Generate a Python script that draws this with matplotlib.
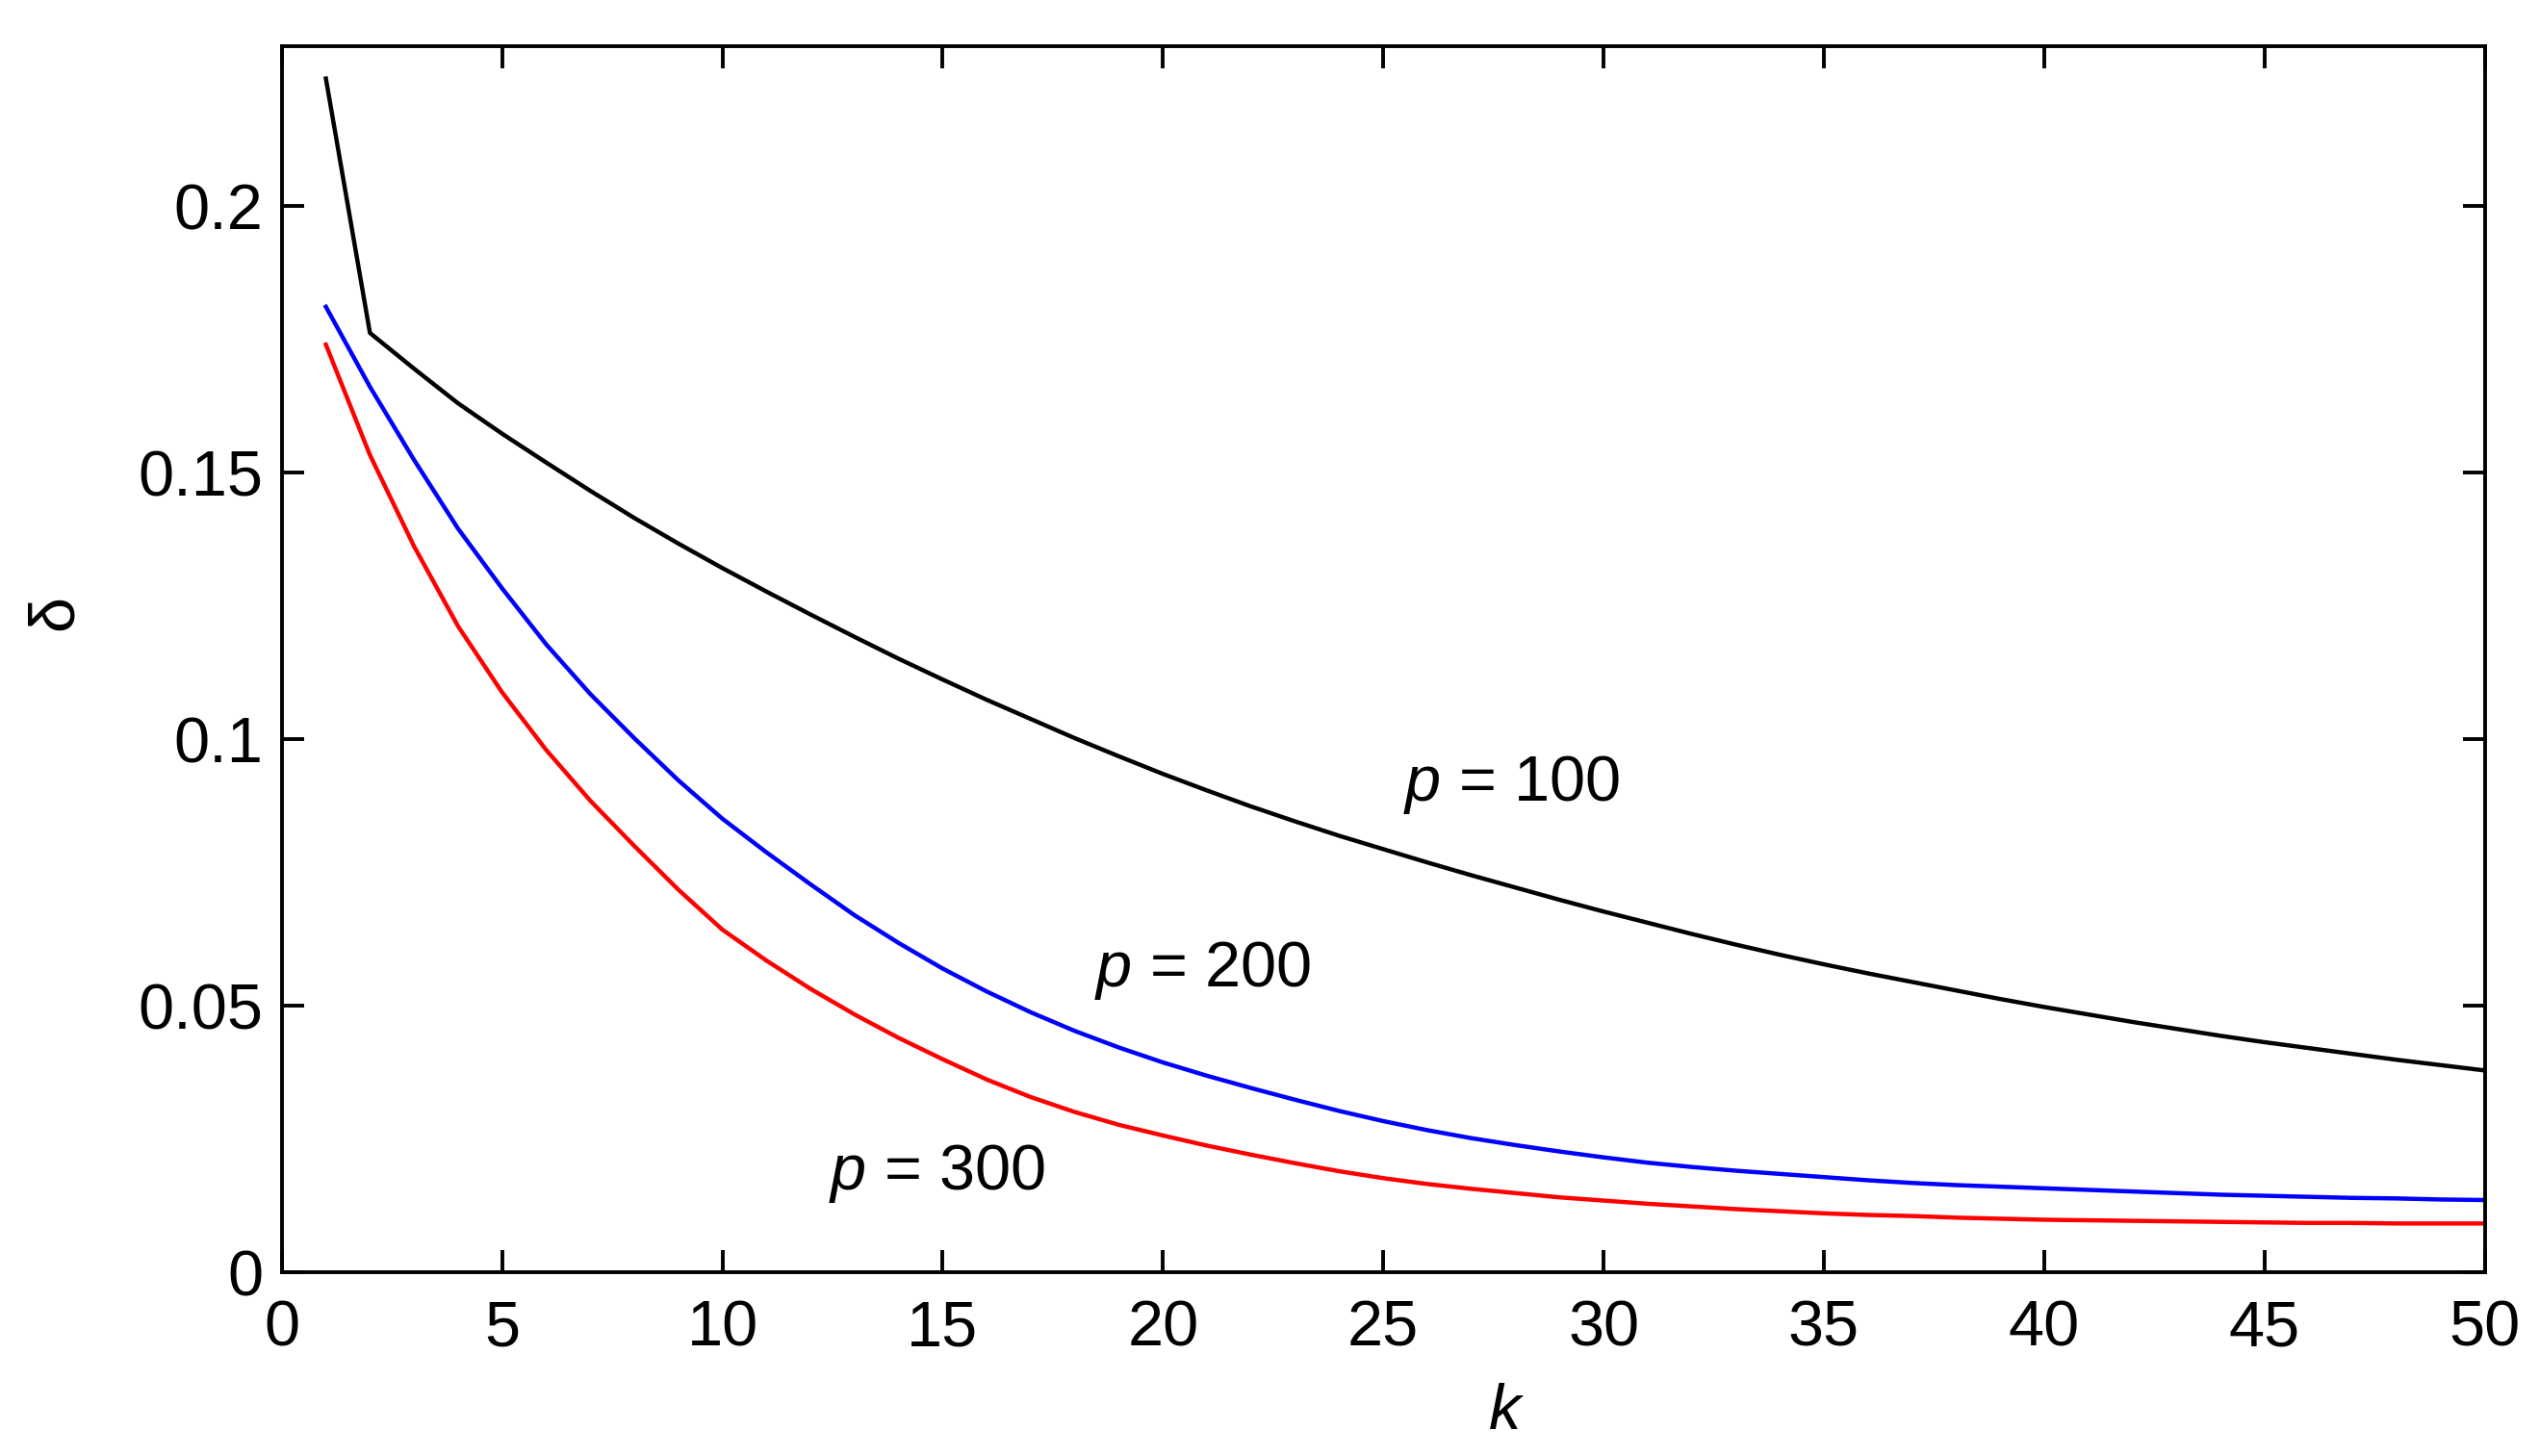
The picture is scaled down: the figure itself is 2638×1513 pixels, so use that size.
import numpy as np
import matplotlib
matplotlib.use("Agg")
import matplotlib.pyplot as plt

plt.rcParams['font.family'] = ['Liberation Sans', 'DejaVu Sans']
plt.rcParams['mathtext.fontset'] = 'custom'
plt.rcParams['mathtext.it'] = 'Liberation Sans:italic'
plt.rcParams['mathtext.rm'] = 'Liberation Sans'

k = list(range(1, 51))

delta_p100 = [0.2239, 0.1762, 0.1695, 0.1630, 0.1573, 0.1519, 0.1466, 0.1415, 0.1367, 0.1321,
              0.1277, 0.1234, 0.1192, 0.1151, 0.1112, 0.1074, 0.1038, 0.1002, 0.0968, 0.0935,
              0.0904, 0.0874, 0.0846, 0.0819, 0.0794, 0.0769, 0.0745, 0.0722, 0.0699, 0.0677,
              0.0656, 0.0635, 0.0615, 0.0596, 0.0578, 0.0561, 0.0545, 0.0529, 0.0513, 0.0498,
              0.0484, 0.0470, 0.0457, 0.0444, 0.0432, 0.0421, 0.0410, 0.0399, 0.0389, 0.0379]

delta_p200 = [0.1811, 0.1661, 0.1524, 0.1395, 0.1283, 0.1178, 0.1085, 0.1002, 0.0923, 0.0851,
              0.0788, 0.0728, 0.0670, 0.0618, 0.0570, 0.0527, 0.0488, 0.0453, 0.0422, 0.0394,
              0.0369, 0.0346, 0.0324, 0.0303, 0.0284, 0.0267, 0.0252, 0.0239, 0.0227, 0.0216,
              0.0206, 0.0198, 0.0191, 0.0185, 0.0179, 0.0173, 0.0168, 0.0164, 0.0161, 0.0158,
              0.0155, 0.0152, 0.0149, 0.0146, 0.0144, 0.0142, 0.0140, 0.0139, 0.0137, 0.0136]

delta_p300 = [0.1740, 0.1533, 0.1362, 0.1212, 0.1088, 0.0980, 0.0885, 0.0800, 0.0718, 0.0643,
              0.0585, 0.0532, 0.0484, 0.0440, 0.0400, 0.0362, 0.0329, 0.0301, 0.0277, 0.0257,
              0.0238, 0.0221, 0.0205, 0.0190, 0.0177, 0.0166, 0.0157, 0.0149, 0.0141, 0.0135,
              0.0129, 0.0124, 0.0119, 0.0115, 0.0111, 0.0108, 0.0106, 0.0103, 0.0101, 0.0099,
              0.0098, 0.0097, 0.0096, 0.0095, 0.0094, 0.0093, 0.0093, 0.0092, 0.0092, 0.0092]

series_colors = ['black', '#0000ff', '#ff0000']
series_labels = [r'$p$ = 100', r'$p$ = 200', r'$p$ = 300']
label_pos = [(25.45, 0.0885), (18.45, 0.0537), (12.41, 0.0155)]

xticks = [0, 5, 10, 15, 20, 25, 30, 35, 40, 45, 50]
yticks = [0, 0.05, 0.1, 0.15, 0.2]
yticklabels = ['0', '0.05', '0.1', '0.15', '0.2']

fig = plt.figure(figsize=(13.19, 7.565), dpi=200)
ax = fig.add_axes([0.1110, 0.1260, 0.9786 - 0.1110, 0.9684 - 0.1260])

for ys, c in zip([delta_p100, delta_p200, delta_p300], series_colors):
    ax.plot(k, ys, color=c, lw=1.6)

for lab, (x, y) in zip(series_labels, label_pos):
    ax.text(x, y, lab, fontsize=24, ha='left', va='baseline')

ax.set_xlim(0, 50)
ax.set_ylim(0, 0.23)
ax.set_xticks(xticks)
ax.set_xticklabels([str(t) for t in xticks])
ax.set_yticks(yticks)
ax.set_yticklabels(yticklabels)
ax.tick_params(direction='in', length=8.3, width=1.4, top=True, right=True,
               labelsize=24)
ax.tick_params(axis='x', pad=10)
ax.tick_params(axis='y', pad=7)
for s in ax.spines.values():
    s.set_linewidth(1.4)

ax.set_xlabel(r'$k$', fontsize=24)
ax.xaxis.set_label_coords(0.556, -0.09)
ax.set_ylabel('δ', fontsize=24)
ax.yaxis.set_label_coords(-0.089, 0.538)

fig.savefig('out.png', dpi=200)
